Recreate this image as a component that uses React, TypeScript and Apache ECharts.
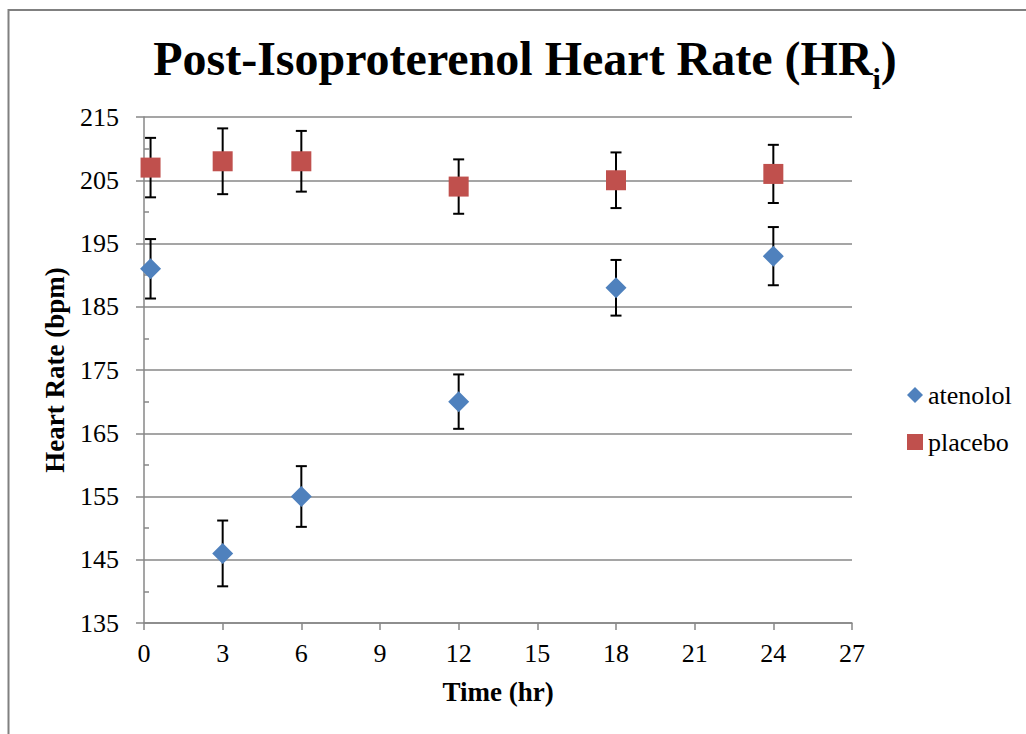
import React, { useEffect, useRef } from "react";
import * as echarts from "echarts";

const times = [0.25, 3, 6, 12, 18, 24];
const atenolol = [191, 146, 155, 170, 188, 193];
const atenololErr = [4.7, 5.2, 4.8, 4.3, 4.4, 4.6];
const placebo = [207, 208, 208, 204, 205, 206];
const placeboErr = [4.7, 5.2, 4.8, 4.3, 4.4, 4.6];
const yTicks = [135, 145, 155, 165, 175, 185, 195, 205, 215];
const yMinorTicks = [140, 150, 160, 170, 180, 190, 200, 210];

const FONT = "'Liberation Serif', 'Times New Roman', serif";
const GRID_COLOR = "#878787";

export default function App() {
  const ref = useRef<HTMLDivElement>(null);
  useEffect(() => {
    if (!ref.current) return;
    const chart = echarts.init(ref.current, undefined, { renderer: "svg" });
    const errData = (means: number[], errs: number[]) =>
      times.map((t, i) => [t, means[i] - errs[i], means[i] + errs[i]]);
    const renderErr = (params: any, api: any) => {
      const x = api.value(0);
      const lo = api.coord([x, api.value(1)]);
      const hi = api.coord([x, api.value(2)]);
      const cap = 5.5;
      const style = { stroke: "#000", lineWidth: 2 };
      return {
        type: "group",
        children: [
          { type: "line", shape: { x1: lo[0], y1: lo[1], x2: hi[0], y2: hi[1] }, style },
          { type: "line", shape: { x1: lo[0] - cap, y1: lo[1], x2: lo[0] + cap, y2: lo[1] }, style },
          { type: "line", shape: { x1: hi[0] - cap, y1: hi[1], x2: hi[0] + cap, y2: hi[1] }, style },
        ],
      };
    };
    chart.setOption({
      animation: false,
      backgroundColor: "#fff",
      title: {
        text: "Post-Isoproterenol Heart Rate (HR{sub|i})",
        left: 520,
        textAlign: "center",
        top: 18,
        textStyle: {
          fontFamily: FONT,
          fontSize: 48,
          fontWeight: "bold",
          color: "#000",
          lineHeight: 70,
          rich: {
            sub: {
              fontFamily: FONT,
              fontSize: 30,
              fontWeight: "bold",
              color: "#000",
              lineHeight: 30,
              verticalAlign: "bottom",
            },
          },
        },
      },
      graphic: [
        {
          type: "rect",
          shape: { x: 8.5, y: 10, width: 1100, height: 800 },
          style: { fill: "none", stroke: "#808080", lineWidth: 2 },
          silent: true,
        },
      ],
      legend: {
        orient: "vertical",
        left: 902,
        top: 377,
        itemWidth: 16,
        itemHeight: 16,
        itemGap: 21,
        textStyle: { fontFamily: FONT, fontSize: 26, color: "#000" },
        data: [
          { name: "atenolol", icon: "diamond" },
          { name: "placebo", icon: "rect" },
        ],
      },
      grid: { left: 144, right: 174, top: 117, bottom: 111 },
      xAxis: {
        type: "value",
        min: 0,
        max: 27,
        interval: 3,
        name: "Time (hr)",
        nameLocation: "middle",
        nameGap: 55,
        nameTextStyle: { fontFamily: FONT, fontSize: 27, fontWeight: "bold", color: "#000" },
        axisLine: { show: true, lineStyle: { color: GRID_COLOR, width: 1.5 } },
        axisTick: { show: true, length: 7, lineStyle: { color: GRID_COLOR, width: 1.5 } },
        axisLabel: { fontFamily: FONT, fontSize: 26, color: "#000", margin: 17 },
        splitLine: { show: false },
      },
      yAxis: [
        {
          type: "value",
          min: 135,
          max: 215,
          name: "Heart Rate (bpm)",
          nameLocation: "middle",
          nameGap: 76,
          nameTextStyle: { fontFamily: FONT, fontSize: 27, fontWeight: "bold", color: "#000" },
          axisLine: { show: true, lineStyle: { color: GRID_COLOR, width: 1.5 } },
          axisTick: {
            show: true,
            length: 8,
            customValues: yTicks,
            lineStyle: { color: GRID_COLOR, width: 1.5 },
          },
          axisLabel: {
            fontFamily: FONT,
            fontSize: 26,
            color: "#000",
            margin: 25,
            customValues: yTicks,
          },
          splitLine: { show: true, lineStyle: { color: GRID_COLOR, width: 1.5 } },
        },
        {
          type: "value",
          min: 135,
          max: 215,
          position: "left",
          axisLine: { show: false },
          axisTick: {
            show: true,
            inside: true,
            length: 5,
            customValues: yMinorTicks,
            lineStyle: { color: GRID_COLOR, width: 1.5 },
          },
          axisLabel: { show: false },
          splitLine: { show: false },
        },
      ],
      series: [
        {
          name: "atenolol-err",
          type: "custom",
          renderItem: renderErr,
          data: errData(atenolol, atenololErr),
          encode: { x: 0, y: [1, 2] },
          z: 1,
          silent: true,
        },
        {
          name: "placebo-err",
          type: "custom",
          renderItem: renderErr,
          data: errData(placebo, placeboErr),
          encode: { x: 0, y: [1, 2] },
          z: 1,
          silent: true,
        },
        {
          name: "atenolol",
          type: "scatter",
          symbol: "diamond",
          symbolSize: 21,
          itemStyle: { color: "#4F81BD", opacity: 1 },
          data: times.map((t, i) => [t, atenolol[i]]),
          z: 3,
        },
        {
          name: "placebo",
          type: "scatter",
          symbol: "rect",
          symbolSize: 20,
          itemStyle: { color: "#C0504D", opacity: 1 },
          data: times.map((t, i) => [t, placebo[i]]),
          z: 3,
        },
      ],
    });
    return () => chart.dispose();
  }, []);
  return (
    <div
      ref={ref}
      style={{ position: "absolute", left: 0, top: 0, width: 1026, height: 734 }}
    />
  );
}
